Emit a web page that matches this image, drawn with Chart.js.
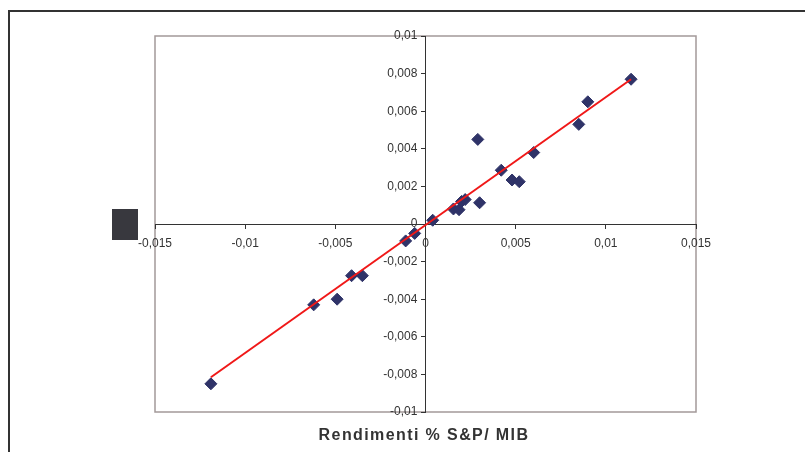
<!DOCTYPE html>
<html><head><meta charset="utf-8">
<script src="https://cdn.jsdelivr.net/npm/chart.js@4.4.1/dist/chart.umd.min.js"></script>
<style>html,body{margin:0;padding:0;background:#fff}canvas{display:block}</style>
</head><body>
<canvas id="c" width="805" height="452"></canvas>
<script>
const xValues = [-0.0119,-0.0062,-0.0049,-0.0041,-0.0035,-0.0011,-0.0006,0.0004,0.00155,0.00186,0.0020,0.0022,0.0030,0.0029,0.0042,0.0048,0.0052,0.0060,0.0085,0.0090,0.0114];
const yValues = [-0.0085,-0.0043,-0.0040,-0.00275,-0.00275,-0.0009,-0.0005,0.0002,0.0008,0.00076,0.0012,0.0013,0.00113,0.0045,0.00286,0.00234,0.00225,0.0038,0.0053,0.0065,0.0077];
const trendX = [-0.0119, 0.0114];
const trendY = [-0.00815, 0.0077];
const xTickLabels = ['-0,015','-0,01','-0,005','0','0,005','0,01','0,015'];
const yTickLabels = ['-0,01','-0,008','-0,006','-0,004','-0,002','0','0,002','0,004','0,006','0,008','0,01'];
const axisTitle = 'Rendimenti % S&P/ MIB';

const FONT = '"Liberation Sans", Arial, sans-serif';

const decor = {
  id: 'decor',
  beforeDraw(chart) {
    const {ctx, chartArea: a} = chart;
    ctx.save();
    ctx.fillStyle = '#fff';
    ctx.fillRect(0, 0, chart.width, chart.height);
    ctx.strokeStyle = '#333';
    ctx.lineWidth = 2;
    ctx.beginPath();
    ctx.moveTo(9, 470); ctx.lineTo(9, 11); ctx.lineTo(830, 11);
    ctx.stroke();
    ctx.fillStyle = '#38383e';
    ctx.fillRect(112, 209, 26, 31);
    ctx.strokeStyle = '#a39999';
    ctx.lineWidth = 1.5;
    ctx.strokeRect(a.left, a.top, a.right - a.left, a.bottom - a.top);
    ctx.restore();
  },
  afterDraw(chart) {
    const ctx = chart.ctx;
    ctx.save();
    ctx.font = 'bold 16px ' + FONT;
    try { ctx.letterSpacing = '1.4px'; } catch (e) {}
    ctx.fillStyle = '#333';
    ctx.textAlign = 'center';
    ctx.textBaseline = 'alphabetic';
    ctx.fillText(axisTitle, 424, 440);
    ctx.restore();
  }
};

new Chart(document.getElementById('c'), {
  type: 'scatter',
  data: {
    datasets: [
      {
        type: 'line',
        data: trendX.map((x, i) => ({x, y: trendY[i]})),
        borderColor: '#f01818',
        borderWidth: 2,
        pointRadius: 0,
        fill: false,
        order: 0,
        xAxisID: 'x', yAxisID: 'y'
      },
      {
        type: 'scatter',
        data: xValues.map((x, i) => ({x, y: yValues[i]})),
        pointStyle: 'rectRot',
        pointRadius: 6,
        backgroundColor: '#2f3368',
        borderColor: '#2f3368',
        borderWidth: 1,
        order: 1,
        xAxisID: 'x', yAxisID: 'y'
      }
    ]
  },
  options: {
    responsive: false,
    devicePixelRatio: 1,
    animation: false,
    events: [],
    layout: {padding: {left: 155, right: 109, top: 36, bottom: 40}},
    plugins: {legend: {display: false}, tooltip: {enabled: false}, title: {display: false}},
    scales: {
      x: {
        type: 'linear', min: -0.015, max: 0.015, position: {y: 0},
        afterFit(s) { s.height = 0; },
        ticks: {stepSize: 0.005, autoSkip: false, maxRotation: 0, minRotation: 0, padding: 8,
          color: '#333', font: {family: FONT, size: 12},
          callback: (v, i) => xTickLabels[i]},
        grid: {drawOnChartArea: false, drawTicks: true, tickLength: 4, color: '#333'},
        border: {display: true, color: '#333', width: 1}
      },
      y: {
        type: 'linear', min: -0.01, max: 0.01, position: {x: 0},
        afterFit(s) { s.width = 0; },
        ticks: {stepSize: 0.002, display: false},
        grid: {drawOnChartArea: false, drawTicks: true, tickLength: 4, color: '#333'},
        border: {display: true, color: '#333', width: 1}
      },
      yLab: {
        type: 'linear', axis: 'y', min: -0.01, max: 0.01, position: {x: -0.00045},
        afterFit(s) { s.width = 0; },
        ticks: {stepSize: 0.002, color: '#333', font: {family: FONT, size: 12},
          callback: (v, i) => yTickLabels[i]},
        grid: {display: false},
        border: {display: false}
      }
    }
  },
  plugins: [decor]
});
</script>
</body></html>
